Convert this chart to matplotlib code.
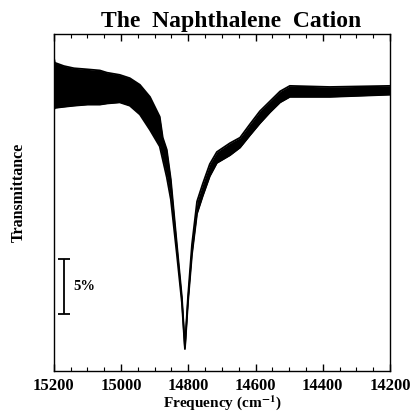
import matplotlib
matplotlib.use("Agg")
import matplotlib.pyplot as plt
from matplotlib.ticker import MultipleLocator

# --- data (transmittance in %, arbitrary offset) ---
freq = [15200, 15197, 15170, 15140, 15100, 15063, 15042, 15004, 14974, 14944,
        14914, 14885, 14876, 14864, 14852, 14834, 14819, 14810, 14801, 14789,
        14774, 14757, 14736, 14715, 14676, 14646, 14617, 14587, 14557, 14527,
        14498, 14379, 14200]
upper = [28.5, 28.0, 27.7, 27.5, 27.4, 27.3, 27.1, 26.9, 26.6, 26.0,
         24.9, 23.1, 21.2, 20.1, 17.4, 11.5, 6.7, 2.2, 6.7, 11.5,
         15.4, 17.0, 18.8, 19.9, 20.7, 21.2, 22.4, 23.6, 24.5, 25.4,
         25.9, 25.8, 25.9]
lower = [23.7, 23.9, 24.0, 24.1, 24.2, 24.2, 24.3, 24.4, 24.1, 23.3,
         21.9, 20.4, 19.2, 17.6, 15.6, 10.6, 6.2, 2.0, 6.2, 10.6,
         14.3, 15.9, 17.7, 18.9, 19.6, 20.3, 21.4, 22.5, 23.5, 24.4,
         24.9, 24.9, 25.1]

scale_freq = 15170
scale_lo, scale_hi = 5.2, 10.2
scale_label = "5%"

plt.rcParams['font.family'] = ['Liberation Serif', 'DejaVu Serif']
plt.rcParams['font.weight'] = 'bold'
plt.rcParams['mathtext.fontset'] = 'stix'

fig = plt.figure(figsize=(4.14, 4.16), dpi=100)
ax = fig.add_axes([0.130, 0.108, 0.812, 0.810])

ax.fill_between(freq, lower, upper, color='black', linewidth=0)
ax.plot(freq, upper, color='black', lw=1.3)
ax.plot(freq, lower, color='black', lw=1.3)

# 5% scale bar
ax.errorbar([scale_freq], [(scale_lo + scale_hi) / 2], yerr=[(scale_hi - scale_lo) / 2],
            color='black', capsize=4, elinewidth=1.3, capthick=1.3, fmt='none')
ax.text(scale_freq - 27, (scale_lo + scale_hi) / 2, scale_label, fontsize=10.5,
        fontweight='bold', va='center', ha='left')

ax.set_xlim(15200, 14200)
ax.set_ylim(0, 30.6)
ax.xaxis.set_major_locator(MultipleLocator(200))
ax.xaxis.set_minor_locator(MultipleLocator(50))
ax.tick_params(axis='x', which='both', direction='in', top=True, bottom=True,
               labelsize=12, pad=5)
ax.tick_params(axis='x', which='major', length=5, width=1)
ax.tick_params(axis='x', which='minor', length=3, width=0.8)
ax.set_yticks([])
for lbl in ax.get_xticklabels():
    lbl.set_fontweight('bold')
for s in ax.spines.values():
    s.set_linewidth(1.0)

ax.set_title("The  Naphthalene  Cation", fontsize=17, fontweight='bold', pad=5, x=0.527)
ax.set_xlabel(r"Frequency (cm$^{\mathbf{-1}}$)", fontsize=11, fontweight='bold')
ax.xaxis.set_label_coords(0.5, -0.066)
ax.set_ylabel("Transmittance", fontsize=11.5, fontweight='bold')
ax.yaxis.set_label_coords(-0.081, 0.53)

fig.savefig("out.png", dpi=100)
